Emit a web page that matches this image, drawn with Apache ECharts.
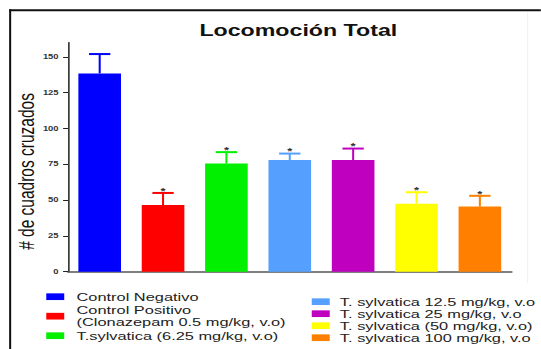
<!DOCTYPE html>
<html>
<head>
<meta charset="utf-8">
<script src="https://cdn.jsdelivr.net/npm/echarts@6/dist/echarts.min.js"></script>
<style>
  html, body { margin: 0; padding: 0; background: #fff; overflow: hidden; }
  #chart { height: 349px; transform-origin: 0 0; }
</style>
</head>
<body>
<div id="chart"></div>
<script>
// Group means and standard errors (crossed squares, total locomotion)
const categories = ['Control Negativo', 'Control Positivo', 'T.sylvatica 6.25', 'T. sylvatica 12.5',
                    'T. sylvatica 25', 'T. sylvatica 50', 'T. sylvatica 100'];
const legendNames = ['Control Negativo', 'Control Positivo\n(Clonazepam 0.5 mg/kg, v.o)',
                     'T.sylvatica (6.25 mg/kg, v.o)', 'T. sylvatica 12.5 mg/kg, v.o',
                     'T. sylvatica 25 mg/kg, v.o', 'T. sylvatica (50 mg/kg, v.o)',
                     'T. sylvatica 100 mg/kg, v.o'];
const means = [138.5, 46.5, 75.5, 78, 78, 47.5, 45.5];
const sems = [13.5, 8.5, 8, 4.5, 8, 8, 7.5];
const marks = ['', '*', '*', '*', '*', '*', '*'];
const yTicks = [0, 25, 50, 75, 100, 125, 150];
const barColors = ['#0000FF', '#FF0000', '#00F000', '#559FFF', '#BF00BF', '#FFFF00', '#FF8000'];

// The figure is drawn in a narrower box and stretched horizontally
const SX = 1.45;
const W = 541 / SX;
const el = document.getElementById('chart');
el.style.width = W + 'px';
el.style.transform = 'scaleX(' + SX + ')';

const FONT = 'Liberation Sans, Arial, sans-serif';
const chart = echarts.init(el, null, { renderer: 'svg' });

const barSeries = categories.map((c, i) => ({
  name: legendNames[i],
  type: 'bar',
  stack: 'groups',
  barWidth: 29.4,
  itemStyle: { color: barColors[i] },
  data: means.map((v, j) => (j === i ? v : '-')),
  z: 2
}));

const errorSeries = {
  type: 'custom',
  z: 3,
  data: means.map((m, i) => [i, m, sems[i]]),
  renderItem(params, api) {
    const i = api.value(0);
    const m = api.value(1);
    const s = api.value(2);
    const base = api.coord([i, m]);
    const top = api.coord([i, m + s]);
    const half = api.size([1, 0])[0] * 0.168;
    const color = barColors[i];
    const children = [
      { type: 'line', shape: { x1: base[0], y1: base[1], x2: top[0], y2: top[1] },
        style: { stroke: color, lineWidth: 1.4 } },
      { type: 'line', shape: { x1: top[0] - half, y1: top[1], x2: top[0] + half, y2: top[1] },
        style: { stroke: color, lineWidth: 2 } }
    ];
    if (marks[i]) {
      children.push({ type: 'text', x: top[0], y: top[1] - 2.5,
        style: { text: marks[i], align: 'center', verticalAlign: 'middle',
                 font: 'bold 9px ' + FONT, fill: '#333' } });
    }
    return { type: 'group', children };
  }
};

chart.setOption({
  animation: false,
  title: {
    text: 'Locomoción Total',
    left: 137.5,
    top: 22,
    padding: 0,
    textStyle: { fontFamily: FONT, fontWeight: 'bold', fontSize: 16, color: '#111' }
  },
  legend: [
    {
      data: legendNames.slice(0, 3),
      orient: 'vertical',
      left: 31.9, top: 290.7, padding: 0, itemGap: 1.5,
      itemWidth: 12.4, itemHeight: 6.7, icon: 'rect', selectedMode: false,
      textStyle: { fontFamily: FONT, fontSize: 11.3, lineHeight: 12, color: '#222', padding: [0, 0, 0, 3.5] }
    },
    {
      data: legendNames.slice(3),
      orient: 'vertical',
      left: 215, top: 295.7, padding: 0, itemGap: 0,
      itemWidth: 12.4, itemHeight: 6.7, icon: 'rect', selectedMode: false,
      textStyle: { fontFamily: FONT, fontSize: 11.3, lineHeight: 12, color: '#222', padding: [0, 0, 0, 2] }
    }
  ],
  grid: { left: 46.9, right: W - 352.9, top: 42.6, bottom: 77.3, containLabel: false },
  xAxis: {
    type: 'category',
    data: categories,
    axisLine: { lineStyle: { color: '#555', width: 1.6 } },
    axisTick: { show: false },
    axisLabel: { show: false }
  },
  yAxis: {
    type: 'value',
    min: 0, max: 160, interval: 25,
    splitLine: { show: false },
    axisLine: { show: true, lineStyle: { color: '#222', width: 1.05 } },
    axisTick: { show: true, length: 3.4, customValues: yTicks, lineStyle: { color: '#222', width: 1 } },
    axisLabel: { margin: 6.5, customValues: yTicks,
                 fontFamily: FONT, fontWeight: 'bold', fontSize: 6.5, color: '#333' }
  },
  graphic: [
    { type: 'line', shape: { x1: 6.4, y1: 10.2, x2: W, y2: 10.2 }, style: { stroke: '#111', lineWidth: 2 } },
    { type: 'line', shape: { x1: 7.0, y1: 9.2, x2: 7.0, y2: 349 }, style: { stroke: '#111', lineWidth: 1.4 } },
    { type: 'line', shape: { x1: 363.9, y1: 12, x2: 363.9, y2: 283 }, style: { stroke: '#f0f0f0', lineWidth: 0.7 } },
    { type: 'text', x: 18.3, y: 171.5, rotation: Math.PI / 2,
      style: { text: '# de cuadros cruzados', align: 'center', verticalAlign: 'middle',
               font: '15.5px ' + FONT, fill: '#111' } }
  ],
  series: [...barSeries, errorSeries]
});
</script>
</body>
</html>
